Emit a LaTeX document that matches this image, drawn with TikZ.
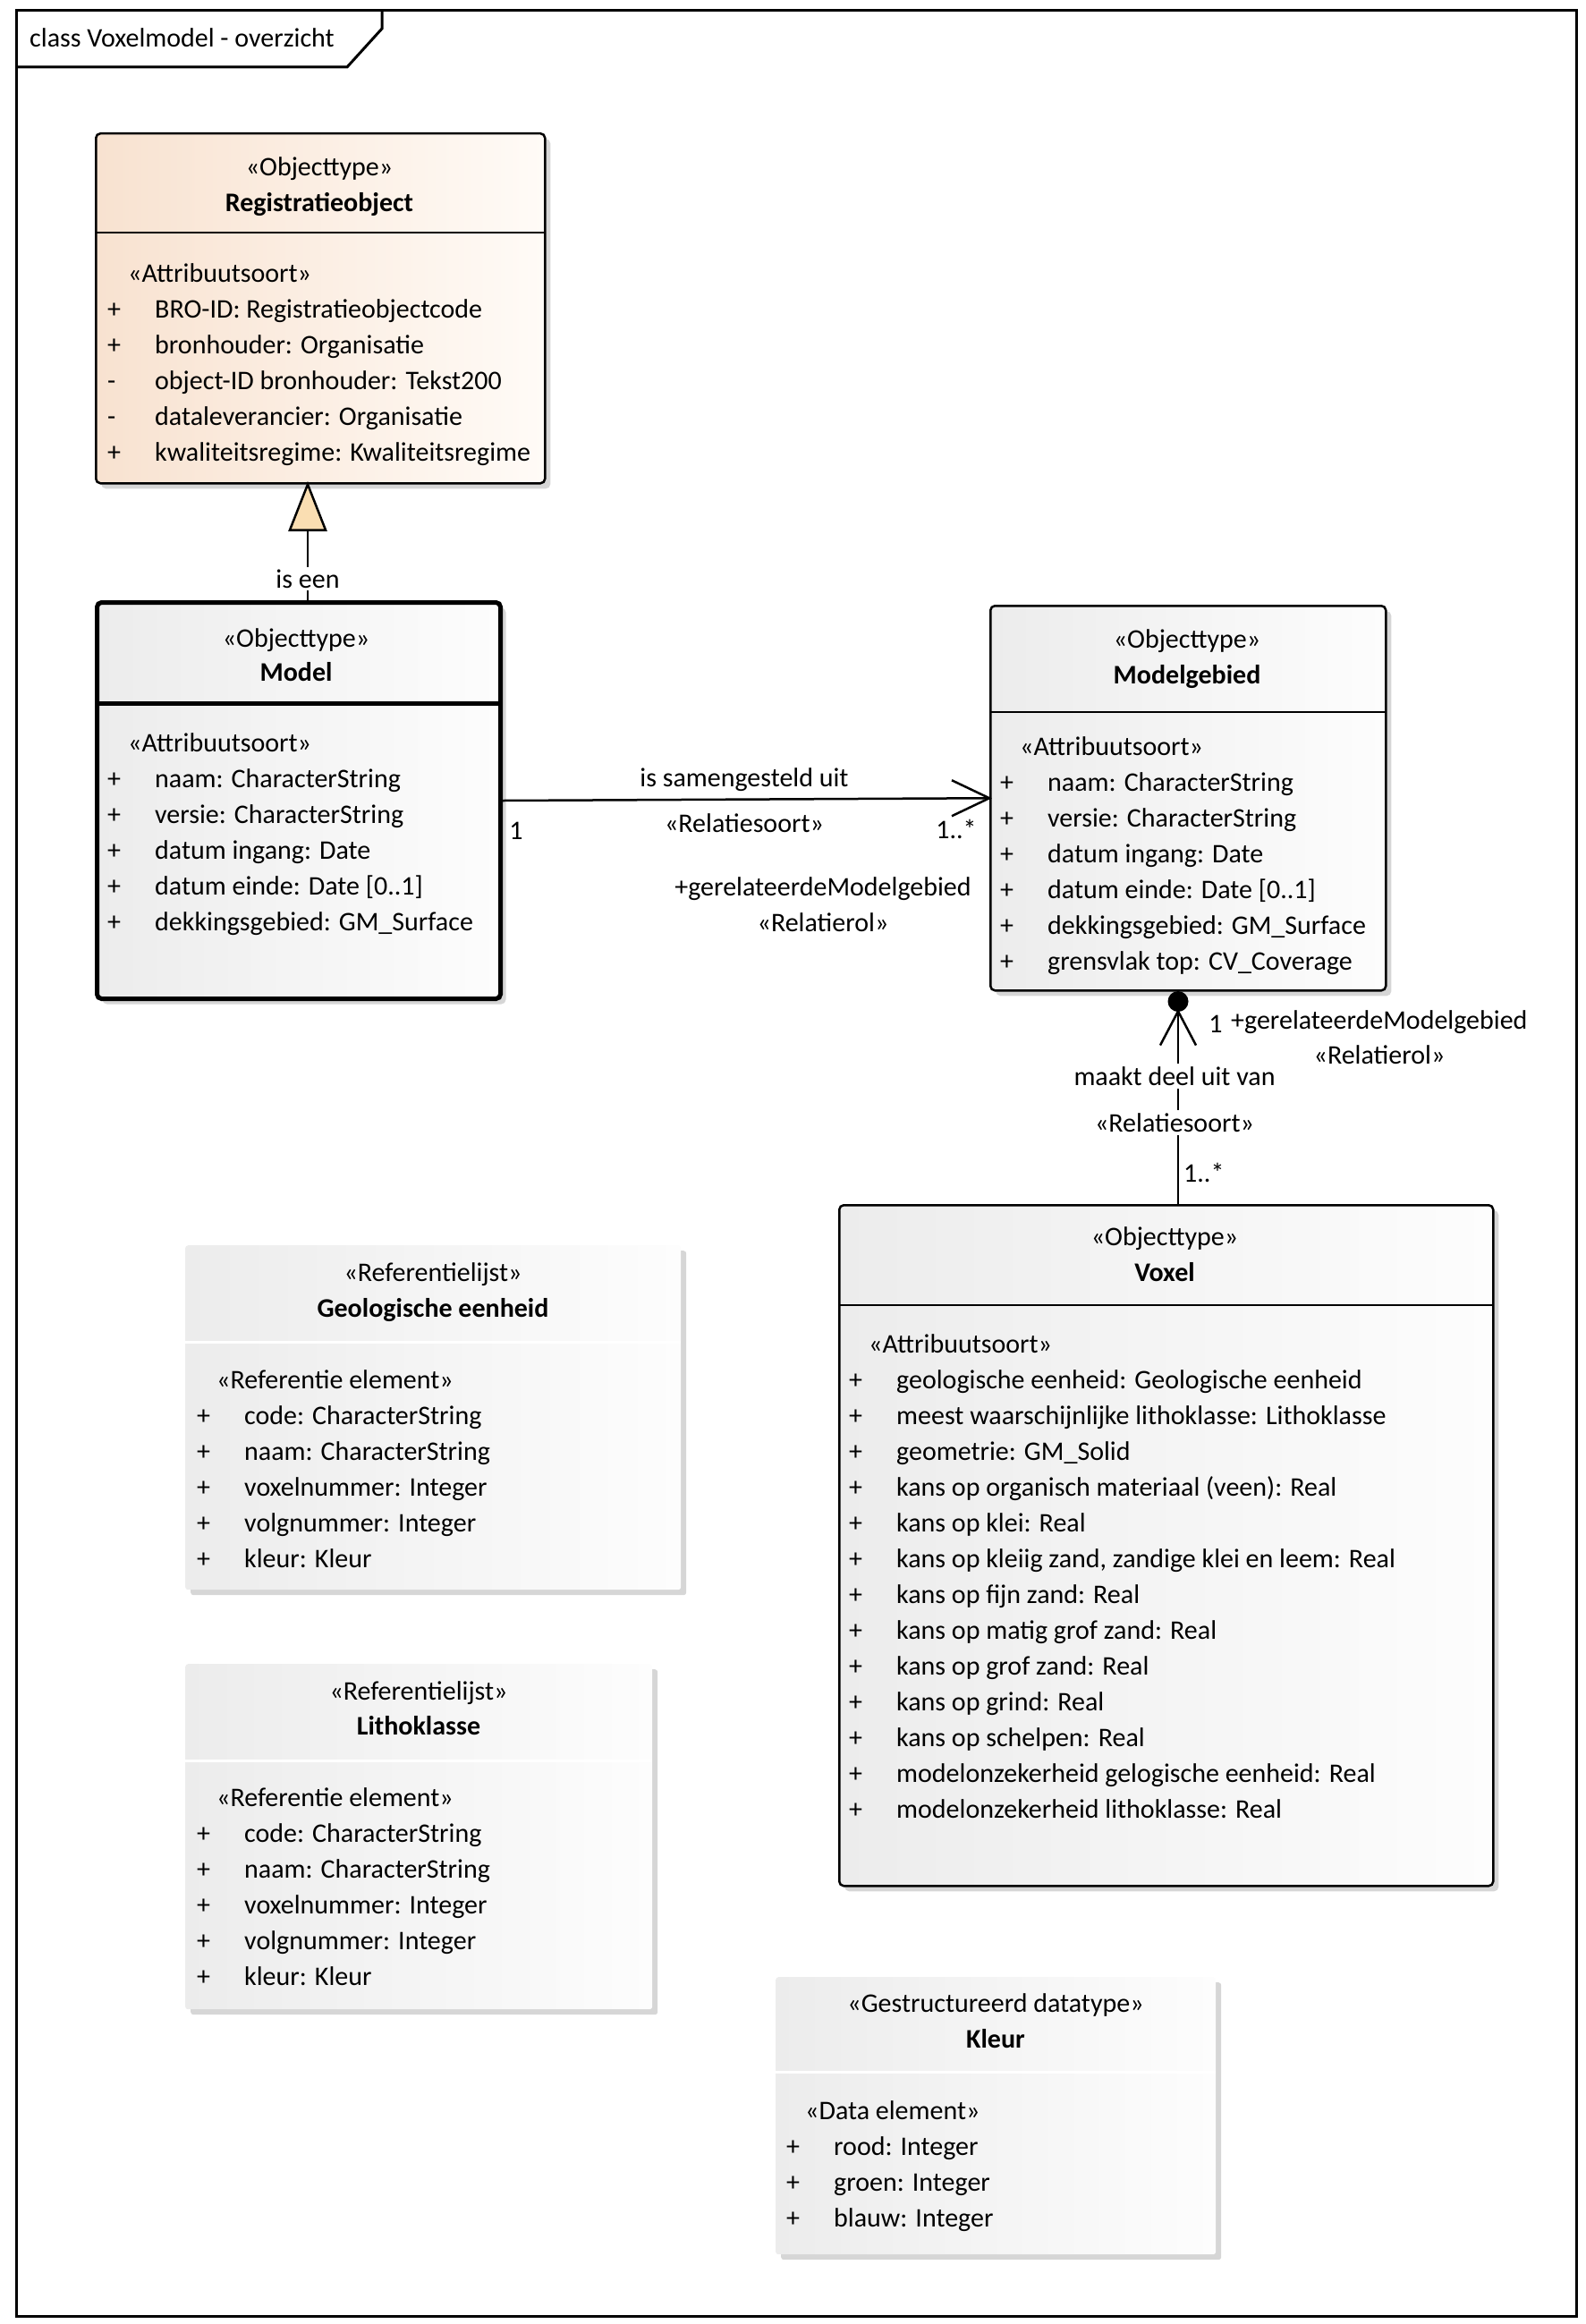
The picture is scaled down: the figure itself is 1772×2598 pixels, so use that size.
\documentclass[tikz,border=0pt]{standalone}
\usepackage{fontspec}
\setmainfont{Carlito}
\usetikzlibrary{shadows,calc}
\definecolor{regL}{RGB}{248,226,208}
\definecolor{regR}{RGB}{255,251,247}
\definecolor{grL}{RGB}{236,236,236}
\definecolor{grR}{RGB}{253,253,253}
\definecolor{shd}{RGB}{214,214,214}
\definecolor{tri}{RGB}{250,222,178}
\newcommand\attrlist[1]{\begin{tabular}[t]{@{}p{53pt}@{}l@{}}#1\end{tabular}}
\tikzset{
  txt/.style={inner sep=0pt, font=\fontsize{30}{40}\selectfont},
  umlbox/.style={anchor=north west, inner sep=0pt, draw=black, line width=2.5pt, rounded corners=5pt,
    drop shadow={shadow xshift=6pt, shadow yshift=-6pt, fill=shd, opacity=1}},
  regbox/.style={umlbox, left color=regL, right color=regR},
  graybox/.style={umlbox, left color=grL, right color=grR},
  boldbox/.style={graybox, line width=5pt},
  plainbox/.style={anchor=north west, inner sep=0pt, draw=none, rounded corners=3pt, left color=grL, right color=grR,
    drop shadow={shadow xshift=6pt, shadow yshift=-6pt, fill=shd, opacity=1}},
  sepline/.style={line width=2.5pt},
  whitesep/.style={line width=3pt, white},
  conn/.style={line width=2.5pt},
  lab/.style={txt, fill=white, inner sep=3pt},
}
\begin{document}
\begin{tikzpicture}[x=1pt,y=-1pt]
\useasboundingbox (0,0) rectangle (1772,2598);
% frame
\draw[line width=3pt] (18,12) rectangle (1762,2589);
\draw[line width=3pt] (18,75) -- (388,75) -- (427,32) -- (427,12);
\node[txt, anchor=mid west] (title) at (33,50) {class Voxelmodel - overzicht};

% Registratieobject
\node[regbox, minimum width=502pt, minimum height=391pt] (reg) at (106,148) {};
\draw[sepline] (106,260) -- (608,260);
\node[txt, anchor=mid] (regst) at (357,194) {«Objecttype»};
\node[txt, anchor=mid] (regnm) at (357,234) {\textbf{Registratieobject}};
\node[txt, anchor=mid west] (regas) at (143,313) {«Attribuutsoort»};
\node[txt, anchor=base west] (regat) at (120,355) {\attrlist{
+ & BRO-ID: Registratieobjectcode\\
+ & bronhouder: Organisatie\\
- & object-ID bronhouder: Tekst200\\
- & dataleverancier: Organisatie\\
+ & kwaliteitsregime: Kwaliteitsregime}};

% Model
\node[boldbox, minimum width=451pt, minimum height=443pt] (model) at (106,671) {};
\draw[line width=5pt] (106,786) -- (557,786);
\node[txt, anchor=mid] (modst) at (331,721) {«Objecttype»};
\node[txt, anchor=mid] (modnm) at (331,759) {\textbf{Model}};
\node[txt, anchor=mid west] (modas) at (143,838) {«Attribuutsoort»};
\node[txt, anchor=base west] (modat) at (120,880) {\attrlist{
+ & naam: CharacterString\\
+ & versie: CharacterString\\
+ & datum ingang: Date\\
+ & datum einde: Date [0..1]\\
+ & dekkingsgebied: GM\_Surface}};

% Modelgebied
\node[graybox, minimum width=442pt, minimum height=430pt] (mg) at (1106,676) {};
\draw[sepline] (1106,796) -- (1548,796);
\node[txt, anchor=mid] (mgst) at (1327,722) {«Objecttype»};
\node[txt, anchor=mid] (mgnm) at (1327,762) {\textbf{Modelgebied}};
\node[txt, anchor=mid west] (mgas) at (1140,842) {«Attribuutsoort»};
\node[txt, anchor=base west] (mgat) at (1118,884) {\attrlist{
+ & naam: CharacterString\\
+ & versie: CharacterString\\
+ & datum ingang: Date\\
+ & datum einde: Date [0..1]\\
+ & dekkingsgebied: GM\_Surface\\
+ & grensvlak top: CV\_Coverage}};

% Voxel
\node[graybox, minimum width=731pt, minimum height=761pt] (voxel) at (937,1346) {};
\draw[sepline] (937,1459) -- (1668,1459);
\node[txt, anchor=mid] (voxst) at (1302,1390) {«Objecttype»};
\node[txt, anchor=mid] (voxnm) at (1302,1430) {\textbf{Voxel}};
\node[txt, anchor=mid west] (voxas) at (971,1510) {«Attribuutsoort»};
\node[txt, anchor=base west] (voxat) at (949,1552) {\attrlist{
+ & geologische eenheid: Geologische eenheid\\
+ & meest waarschijnlijke lithoklasse: Lithoklasse\\
+ & geometrie: GM\_Solid\\
+ & kans op organisch materiaal (veen): Real\\
+ & kans op klei: Real\\
+ & kans op kleiig zand, zandige klei en leem: Real\\
+ & kans op fijn zand: Real\\
+ & kans op matig grof zand: Real\\
+ & kans op grof zand: Real\\
+ & kans op grind: Real\\
+ & kans op schelpen: Real\\
+ & modelonzekerheid gelogische eenheid: Real\\
+ & modelonzekerheid lithoklasse: Real}};

% Geologische eenheid
\node[plainbox, minimum width=554pt, minimum height=385pt] (geo) at (207,1392) {};
\draw[whitesep] (207,1500) -- (761,1500);
\node[txt, anchor=mid] (geost) at (484,1430) {«Referentielijst»};
\node[txt, anchor=mid] (geonm) at (484,1470) {\textbf{Geologische eenheid}};
\node[txt, anchor=mid west] (geoas) at (242,1550) {«Referentie element»};
\node[txt, anchor=base west] (geoat) at (220,1592) {\attrlist{
+ & code: CharacterString\\
+ & naam: CharacterString\\
+ & voxelnummer: Integer\\
+ & volgnummer: Integer\\
+ & kleur: Kleur}};

% Lithoklasse
\node[plainbox, minimum width=522pt, minimum height=386pt] (litho) at (207,1860) {};
\draw[whitesep] (207,1968) -- (729,1968);
\node[txt, anchor=mid] (litst) at (468,1898) {«Referentielijst»};
\node[txt, anchor=mid] (litnm) at (468,1937) {\textbf{Lithoklasse}};
\node[txt, anchor=mid west] (litas) at (242,2017) {«Referentie element»};
\node[txt, anchor=base west] (litat) at (220,2059) {\attrlist{
+ & code: CharacterString\\
+ & naam: CharacterString\\
+ & voxelnummer: Integer\\
+ & volgnummer: Integer\\
+ & kleur: Kleur}};

% Kleur
\node[plainbox, minimum width=492pt, minimum height=310pt] (kleur) at (867,2210) {};
\draw[whitesep] (867,2316) -- (1359,2316);
\node[txt, anchor=mid] (klst) at (1113,2247) {«Gestructureerd datatype»};
\node[txt, anchor=mid] (klnm) at (1113,2287) {\textbf{Kleur}};
\node[txt, anchor=mid west] (klas) at (900,2367) {«Data element»};
\node[txt, anchor=base west] (klat) at (879,2409) {\attrlist{
+ & rood: Integer\\
+ & groen: Integer\\
+ & blauw: Integer}};

% Generalization Model -> Registratieobject
\coordinate (gx) at (344,0);
\coordinate (gtip) at (reg.south -| gx);
\draw[conn] (model.north -| gx) -- ($(gtip)+(0,51)$);
\draw[conn, fill=tri, line join=miter] (gtip) -- ++(-20,51) -- ++(40,0) -- cycle;
\node[lab] (iseen) at (344,647) {is een};

% Association Model -> Modelgebied
\draw[conn] (model.east) -- (mg.west);
\draw[conn] (mg.west) ++(-42,-20) -- (mg.west) -- ++(-42,20);
\node[txt, anchor=mid] (a1) at (832,877) {is samengesteld uit};
\node[txt, anchor=mid] (a2) at (832,928) {«Relatiesoort»};
\node[txt, anchor=mid] (a3) at (577,936) {1};
\node[txt, anchor=mid] (a4) at (1069,935) {1..*};
\node[txt, anchor=mid] (a5) at (920,999) {+gerelateerdeModelgebied};
\node[txt, anchor=mid] (a6) at (920,1039) {«Relatierol»};

% Composition Voxel -> Modelgebied
\coordinate (cx) at (1317,0);
\coordinate (ctop) at (mg.south -| cx);
\draw[conn] (voxel.north -| cx) -- ($(ctop)+(0,22)$);
\fill ($(ctop)+(0,11)$) circle (11.5);
\draw[conn] ($(ctop)+(-20,60)$) -- ($(ctop)+(0,22)$) -- ($(ctop)+(20,60)$);
\node[lab] (c1) at (1313,1203) {maakt deel uit van};
\node[lab] (c2) at (1313,1255) {«Relatiesoort»};
\node[txt, anchor=mid west] (c3) at (1323,1319) {1..*};
\node[txt, anchor=mid] (c4) at (1359,1152) {1};
\node[txt, anchor=mid west] (c5) at (1376,1148) {+gerelateerdeModelgebied};
\node[txt, anchor=mid] (c6) at (1542,1187) {«Relatierol»};
\end{tikzpicture}
\end{document}
